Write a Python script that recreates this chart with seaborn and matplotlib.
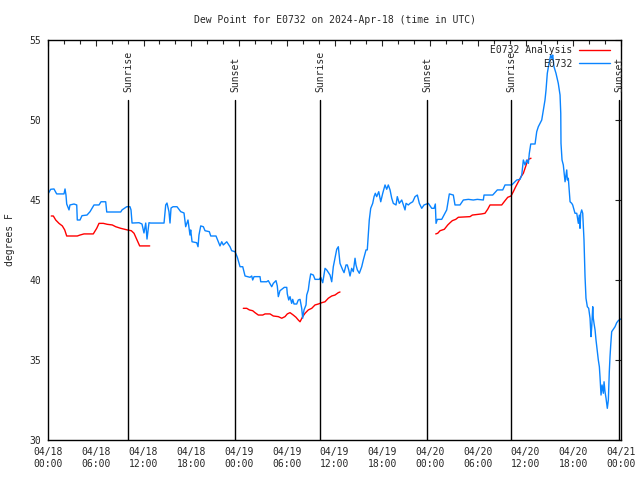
import pandas as pd
import numpy as np
import matplotlib
matplotlib.use("Agg")
import matplotlib.pyplot as plt
import matplotlib.dates as mdates
from matplotlib.lines import Line2D
import seaborn as sns

# hours after 2024-04-18 00:00 UTC, dew point in F
ob_hours = [0.00, 0.34, 0.75, 1.09, 2.01, 2.14, 2.26, 2.35, 2.64, 2.76, 3.27, 3.61, 3.68, 4.02, 4.27, 4.90,
            5.28, 5.78, 6.41, 6.66, 7.25, 7.38, 9.14, 9.30, 9.89, 10.30, 10.43, 10.56, 11.44, 11.81, 12.06,
            12.28, 12.44, 12.69, 12.90, 14.58, 14.79, 14.95, 15.20, 15.33, 15.46, 15.71, 16.21, 16.68, 17.09,
            17.30, 17.59, 17.84, 17.93, 18.10, 18.69, 18.85, 18.97, 19.19, 19.52, 19.73, 20.27, 20.45, 21.11,
            21.40, 21.61, 21.83, 22.03, 22.46, 22.87, 23.08, 23.50, 23.79, 24.13, 24.47, 24.76, 25.38, 25.60,
            25.72, 25.89, 26.64, 26.73, 27.48, 27.68, 28.11, 28.31, 28.65, 28.81, 28.94, 29.15, 29.69, 30.00,
            30.07, 30.25, 30.41, 30.62, 30.75, 30.91, 31.25, 31.45, 31.67, 31.88, 32.00, 32.17, 32.42, 32.51,
            32.71, 32.84, 33.01, 33.34, 33.55, 34.09, 34.27, 34.52, 34.81, 35.02, 35.44, 35.65, 35.85, 36.06,
            36.28, 36.48, 36.69, 37.03, 37.20, 37.45, 37.61, 37.79, 37.95, 38.16, 38.36, 38.58, 38.70, 38.87,
            39.12, 39.42, 39.62, 39.96, 40.12, 40.37, 40.55, 40.80, 40.97, 41.13, 41.30, 41.56, 41.81, 42.06,
            42.35, 42.56, 42.76, 42.98, 43.19, 43.39, 43.73, 43.89, 44.14, 44.45, 44.65, 44.86, 44.99, 45.28,
            45.49, 45.83, 46.12, 46.41, 46.66, 46.96, 47.25, 47.79, 48.22, 48.51, 48.67, 48.76, 48.92, 49.47,
            50.10, 50.43, 50.93, 51.14, 51.77, 52.19, 52.82, 53.44, 53.95, 54.70, 54.79, 55.88, 56.46, 57.14,
            57.43, 58.27, 58.90, 59.31, 59.53, 59.73, 59.94, 60.15, 60.36, 60.48, 60.66, 61.20, 61.41, 61.61,
            62.04, 62.24, 62.45, 62.58, 62.74, 62.99, 63.17, 63.30, 63.42, 63.58, 63.83, 64.12, 64.34, 64.43,
            64.46, 64.59, 64.75, 64.84, 64.97, 65.09, 65.18, 65.26, 65.38, 65.51, 65.60, 65.81, 65.93, 66.10,
            66.22, 66.44, 66.64, 66.76, 66.85, 66.94, 67.06, 67.19, 67.27, 67.35, 67.48, 67.60, 67.77, 67.94,
            68.11, 68.23, 68.32, 68.45, 68.52, 68.61, 68.74, 68.86, 69.03, 69.15, 69.28, 69.36, 69.49, 69.62,
            69.78, 69.87, 69.99, 70.12, 70.28, 70.41, 70.53, 70.62, 70.71, 70.83, 71.04, 71.25, 71.46, 71.66,
            71.94]
ob_dew = [45.38, 45.67, 45.69, 45.38, 45.38, 45.69, 45.31, 44.75, 44.38, 44.69, 44.75, 44.69, 43.75, 43.75, 44.02, 44.06,
          44.27, 44.69, 44.69, 44.89, 44.89, 44.25, 44.25, 44.38, 44.58, 44.58, 44.38, 43.56, 43.58, 43.50, 42.94,
          43.56, 42.56, 43.58, 43.56, 43.56, 44.69, 44.81, 44.27, 43.56, 44.50, 44.58, 44.58, 44.27, 44.19,
          43.33, 43.75, 42.81, 43.13, 42.39, 42.33, 42.08, 42.81, 43.38, 43.33, 43.08, 43.02, 42.75, 42.75,
          42.39, 42.13, 42.39, 42.19, 42.39, 42.08, 41.83, 41.77, 41.42, 40.83, 40.83, 40.25, 40.17, 40.25,
          40.00, 40.21, 40.21, 39.89, 39.89, 39.96, 39.58, 39.79, 39.96, 39.63, 38.96, 39.33, 39.54, 39.54,
          39.13, 38.75, 38.96, 38.54, 38.79, 38.50, 38.50, 38.75, 38.79, 38.23, 37.61, 38.13, 38.44, 39.06,
          39.38, 39.89, 40.38, 40.31, 40.04, 40.04, 40.17, 39.83, 40.73, 40.63, 40.31, 39.89, 40.83, 41.36,
          41.92, 42.08, 41.04, 40.63, 40.46, 40.94, 40.94, 40.63, 40.25, 40.73, 40.52, 41.36, 40.94, 40.63,
          40.42, 40.83, 41.25, 41.88, 41.88, 43.75, 44.48, 44.79, 45.21, 45.42, 45.21, 45.52, 44.89, 45.42,
          45.94, 45.67, 45.94, 45.63, 45.11, 44.79, 44.69, 45.21, 44.79, 45.00, 44.69, 44.38, 44.79, 44.69,
          44.79, 44.89, 45.21, 45.31, 44.79, 44.48, 44.69, 44.79, 44.48, 44.48, 44.75, 43.54, 43.79, 43.79,
          44.38, 45.38, 45.31, 44.69, 44.69, 45.00, 45.04, 45.00, 45.04, 45.00, 45.31, 45.31, 45.63, 45.63,
          45.94, 45.94, 46.25, 46.29, 46.56, 47.50, 47.19, 47.50, 47.29, 47.92, 48.50, 48.50, 49.27, 49.58,
          50.00, 50.63, 51.25, 51.88, 52.92, 53.64, 54.06, 53.86, 54.06, 53.33, 52.92, 52.29, 51.56, 50.42,
          48.54, 47.50, 47.19, 46.77, 46.14, 46.56, 46.88, 46.25, 46.36, 45.52, 44.89, 44.79, 44.69, 44.38,
          44.17, 44.17, 43.54, 44.06, 43.23, 44.17, 44.38, 44.17, 43.33, 42.50, 40.21, 38.86, 38.33, 38.23,
          37.61, 36.46, 37.08, 38.33, 37.61, 37.29, 36.88, 36.25, 35.52, 35.00, 34.58, 33.96, 32.81, 33.44,
          32.92, 33.64, 33.02, 32.61, 31.98, 32.50, 34.27, 35.21, 35.94, 36.77, 36.92, 37.08, 37.33, 37.46,
          37.56]

an_hours = [0.41, 0.67, 0.97, 1.38, 1.80, 2.10, 2.35, 3.68, 4.02, 4.52, 5.69, 6.12, 6.41, 6.95, 7.45, 8.08,
            8.51, 9.14, 9.96, 10.47, 10.81, 11.15, 11.52, 12.78,
            24.54, 24.97, 25.30, 25.72, 26.01, 26.43, 26.98, 27.27, 27.90, 28.31, 28.94, 29.37, 29.78, 30.07,
            30.41, 30.82, 31.16, 31.45, 31.67, 32.00, 32.30, 32.71, 33.14, 33.55, 33.97, 34.39, 34.81, 35.22,
            35.65, 36.06, 36.48, 36.69,
            48.72, 48.97, 49.26, 49.80, 50.23, 50.52, 50.81, 51.23, 51.56, 53.03, 53.32, 54.50, 54.91, 55.25,
            55.54, 57.01, 57.43, 57.77, 58.18, 58.47, 58.77, 59.10, 59.44, 59.73, 59.94, 60.15, 60.36, 60.69]
an_dew = [44.00, 44.00, 43.75, 43.54, 43.38, 43.13, 42.75, 42.75, 42.81, 42.88, 42.88, 43.23, 43.54, 43.54, 43.48, 43.44,
          43.33, 43.23, 43.13, 43.08, 42.92, 42.54, 42.13, 42.13,
          38.23, 38.23, 38.13, 38.08, 37.96, 37.81, 37.81, 37.88, 37.88, 37.75, 37.71, 37.61, 37.71, 37.88,
          37.96, 37.81, 37.67, 37.50, 37.39, 37.71, 37.92, 38.13, 38.23, 38.44, 38.50, 38.58, 38.64, 38.86,
          39.00, 39.06, 39.21, 39.25,
          42.88, 42.92, 43.08, 43.17, 43.44, 43.58, 43.71, 43.79, 43.92, 43.96, 44.06, 44.13, 44.17, 44.42,
          44.69, 44.69, 44.96, 45.17, 45.25, 45.52, 45.83, 46.14, 46.46, 46.67, 46.98, 47.29, 47.54, 47.61]
an_seg = [1] * 24 + [2] * 32 + [3] * 28

sun_labels = ["Sunrise", "Sunset", "Sunrise", "Sunset", "Sunrise", "Sunset"]
sun_hours = [10.05, 23.50, 34.18, 47.63, 58.18, 71.75]

start = pd.Timestamp("2024-04-18 00:00")
ob = pd.DataFrame({"time": start + pd.to_timedelta(ob_hours, unit="h"), "dew": ob_dew})
an = pd.DataFrame({"time": start + pd.to_timedelta(an_hours, unit="h"), "dew": an_dew, "seg": an_seg})

sns.set_style("white")
plt.rcParams["font.family"] = ["DejaVu Sans Mono"]
plt.rcParams["font.size"] = 7

red = "#ff0000"
blue = "#0a84ff"

fig = plt.figure(figsize=(6.4, 4.8), dpi=100)
ax = fig.add_axes([48 / 640, 40 / 480, 573 / 640, 400 / 480])

sns.lineplot(data=an, x="time", y="dew", units="seg", estimator=None, color=red,
             lw=1.0, ax=ax, legend=False)
sns.lineplot(data=ob, x="time", y="dew", color=blue, lw=1.0, ax=ax, legend=False)

for lab, h in zip(sun_labels, sun_hours):
    t = start + pd.Timedelta(hours=h)
    ax.plot([t, t], [30, 51.25], color="black", lw=1.0)
    ax.text(t, 51.75, lab, rotation=90, ha="center", va="bottom", fontsize=7)

ax.set_xlim(start, start + pd.Timedelta(days=3))
ax.set_ylim(30, 55)
ax.set_yticks([30, 35, 40, 45, 50, 55])
ax.xaxis.set_major_locator(mdates.HourLocator(byhour=[0, 6, 12, 18]))
ax.xaxis.set_minor_locator(mdates.HourLocator(interval=2))
ax.xaxis.set_major_formatter(mdates.DateFormatter("%m/%d\n%H:%M"))
ax.tick_params(axis="both", which="both", direction="in", top=True, right=True,
               length=4, width=0.8, labelsize=7, pad=5)
ax.tick_params(axis="x", which="minor", length=3)

ax.set_xlabel("")
ax.set_ylabel("degrees F", fontsize=7, labelpad=10)
ax.set_title("Dew Point for E0732 on 2024-Apr-18 (time in UTC)", fontsize=7, pad=12)
for s in ax.spines.values():
    s.set_color("black")
    s.set_linewidth(1.0)

handles = [Line2D([], [], color=red, lw=1.0), Line2D([], [], color=blue, lw=1.0)]
leg = ax.legend(handles, ["E0732 Analysis", "E0732"], loc="upper right", bbox_to_anchor=(0.993, 1.004),
                frameon=False, markerfirst=False, handlelength=3.2, fontsize=7,
                borderaxespad=0.3, labelspacing=0.35, handletextpad=0.7)
for t in leg.get_texts():
    t.set_ha("right")

fig.savefig("out.png", dpi=100)
